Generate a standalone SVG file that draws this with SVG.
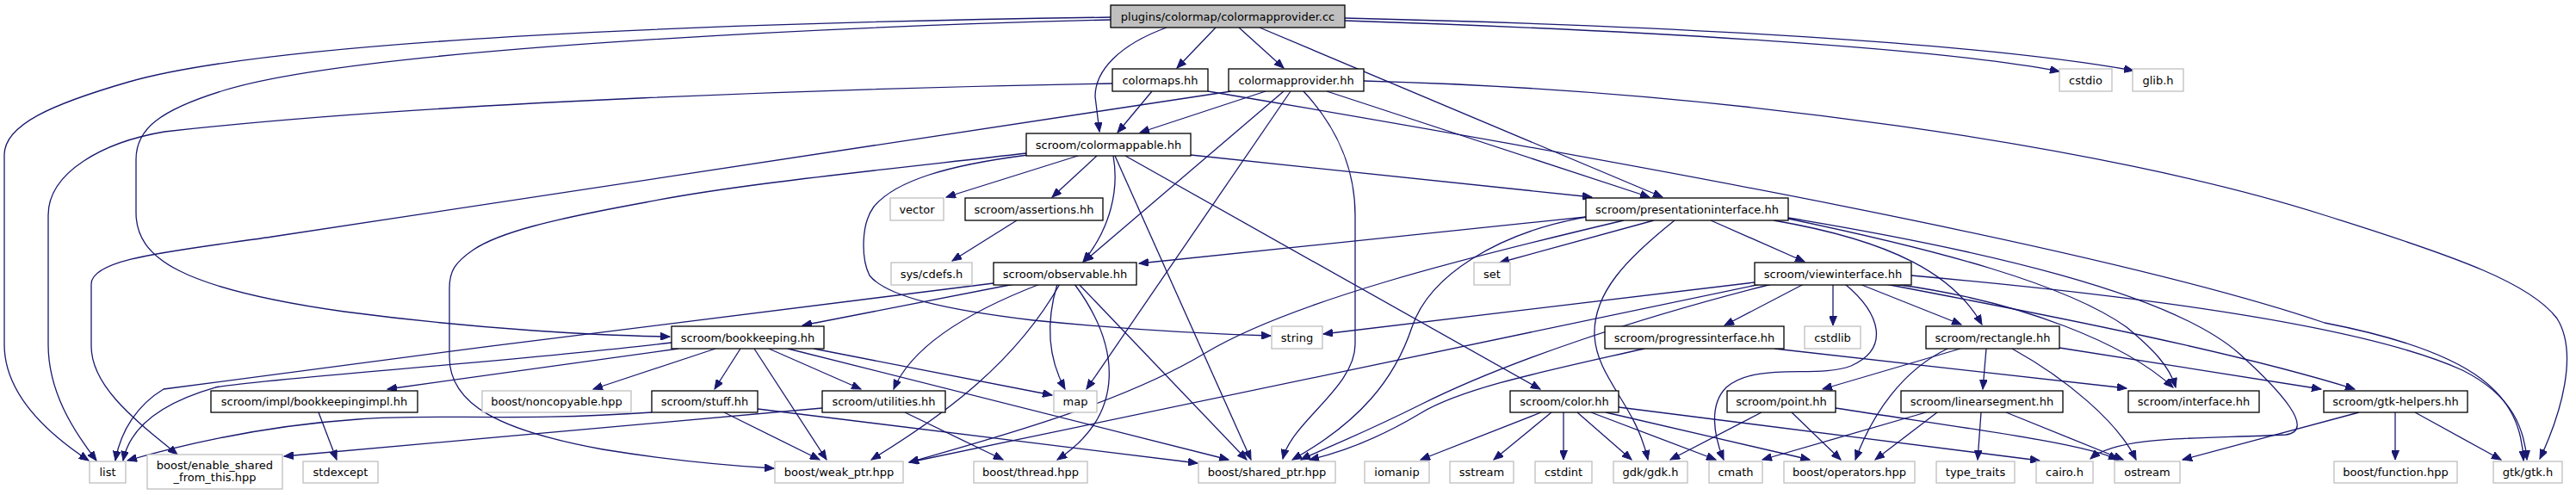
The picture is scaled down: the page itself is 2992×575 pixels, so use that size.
<svg xmlns="http://www.w3.org/2000/svg" width="2992" height="575" viewBox="0 0 2992 575">
<style>
.e{fill:none;stroke:#191970;stroke-width:1.3}
.n rect{fill:#fff;stroke:#000;stroke-width:1.3}
.x rect{fill:#fff;stroke:#bfbfbf;stroke-width:1.3}
.m rect{fill:#bfbfbf;stroke:#000;stroke-width:1.3}
text{font-family:"DejaVu Sans","Liberation Sans",sans-serif;font-size:13px;text-anchor:middle;fill:#000}
</style>
<defs>
<marker id="a" markerWidth="12" markerHeight="9" refX="11" refY="4.5" orient="auto" markerUnits="userSpaceOnUse"><path d="M0,0 L11,4.5 L0,9 z" fill="#191970" stroke="#191970" stroke-width="1"/></marker>
</defs>
<rect width="2992" height="575" fill="#fff"/>
<g id="edges">
<path class="e" marker-end="url(#a)" d="M1290,20 C1000,24 350,38 150,95 C60,121 5,145 5,180 L5,400 C5,455 50,500 103,535"/>
<path class="e" marker-end="url(#a)" d="M1290,23 C1000,30 420,55 260,105 C185,128 158,150 158,185 L158,247 C158,300 210,335 400,362 C560,383 700,390 778,391"/>
<path class="e" marker-end="url(#a)" d="M1355,32 C1300,52 1272,82 1272,112 L1277,153"/>
<path class="e" marker-end="url(#a)" d="M1412,32 L1367,79"/>
<path class="e" marker-end="url(#a)" d="M1439,32 L1491,79"/>
<path class="e" marker-end="url(#a)" d="M1463,32 L1931,229"/>
<path class="e" marker-end="url(#a)" d="M1562,24 C1900,35 2250,55 2392,83"/>
<path class="e" marker-end="url(#a)" d="M1562,21 C1950,30 2300,50 2478,82"/>
<path class="e" marker-end="url(#a)" d="M1292,97 C1000,102 500,118 191,153 C120,165 56,200 56,250 L56,400 C56,455 85,500 112,535"/>
<path class="e" marker-end="url(#a)" d="M1338,106 L1298,154"/>
<path class="e" marker-end="url(#a)" d="M1403,106 C1900,190 2450,290 2700,375 C2880,410 2928,460 2931,535"/>
<path class="e" marker-end="url(#a)" d="M1430,106 L316,275 C200,292 106,300 106,330 L106,402 C106,450 160,490 206,528"/>
<path class="e" marker-end="url(#a)" d="M1470,106 L1324,154"/>
<path class="e" marker-end="url(#a)" d="M1491,106 L1259,304"/>
<path class="e" marker-end="url(#a)" d="M1499,106 L1262,452"/>
<path class="e" marker-end="url(#a)" d="M1514,106 C1555,150 1574,200 1574,250 L1574,400 C1574,450 1500,490 1490,533"/>
<path class="e" marker-end="url(#a)" d="M1541,106 L1916,229"/>
<path class="e" marker-end="url(#a)" d="M1584,94 C2000,105 2450,170 2700,250 C2860,300 2940,330 2970,370 C2995,410 2975,480 2950,533"/>
<path class="e" marker-end="url(#a)" d="M1192,178 C1000,200 850,215 750,235 C640,255 580,270 550,290 C528,305 522,315 522,335 L522,415 C522,470 580,500 700,522 C780,535 850,541 899,544"/>
<path class="e" marker-end="url(#a)" d="M1252,181 L1099,229"/>
<path class="e" marker-end="url(#a)" d="M1274,181 L1222,229"/>
<path class="e" marker-end="url(#a)" d="M1293,181 C1300,220 1290,265 1258,304"/>
<path class="e" marker-end="url(#a)" d="M1194,180 C1100,192 1040,210 1015,240 C1000,260 1000,300 1010,320 C1030,345 1100,360 1200,372 C1300,382 1400,388 1476,390"/>
<path class="e" marker-end="url(#a)" d="M1295,181 L1453,534"/>
<path class="e" marker-end="url(#a)" d="M1307,181 L1789,452"/>
<path class="e" marker-end="url(#a)" d="M1383,180 L1849,229"/>
<path class="e" marker-end="url(#a)" d="M1181,256 L1106,303"/>
<path class="e" marker-end="url(#a)" d="M1842,252 L1323,306"/>
<path class="e" marker-end="url(#a)" d="M1843,252 C1740,270 1660,320 1640,380 C1620,440 1580,490 1501,534"/>
<path class="e" marker-end="url(#a)" d="M1886,256 C1700,300 1500,350 1400,410 C1300,470 1150,510 1056,537"/>
<path class="e" marker-end="url(#a)" d="M1921,256 L1742,305"/>
<path class="e" marker-end="url(#a)" d="M1945,256 C1890,300 1850,340 1852,390 C1855,440 1900,470 1914,534"/>
<path class="e" marker-end="url(#a)" d="M1987,256 L2096,304"/>
<path class="e" marker-end="url(#a)" d="M2060,256 C2200,280 2270,320 2302,377"/>
<path class="e" marker-end="url(#a)" d="M2077,254 C2250,290 2400,330 2470,380 C2500,405 2520,425 2527,450"/>
<path class="e" marker-end="url(#a)" d="M2077,253 C2300,290 2520,340 2600,410 C2650,455 2690,500 2655,505 C2560,510 2460,505 2428,533"/>
<path class="e" marker-end="url(#a)" d="M2038,328 L1537,388"/>
<path class="e" marker-end="url(#a)" d="M2045,330 L1056,537"/>
<path class="e" marker-end="url(#a)" d="M2058,330 C1900,370 1750,420 1650,470 C1580,505 1540,520 1511,534"/>
<path class="e" marker-end="url(#a)" d="M2095,330 L2003,378"/>
<path class="e" marker-end="url(#a)" d="M2129,330 L2129,378"/>
<path class="e" marker-end="url(#a)" d="M2143,330 C2185,365 2195,405 2150,425 C2110,440 2040,420 2005,450 C1985,470 1990,505 2002,534"/>
<path class="e" marker-end="url(#a)" d="M2160,330 L2278,377"/>
<path class="e" marker-end="url(#a)" d="M2190,330 C2400,370 2600,410 2735,452"/>
<path class="e" marker-end="url(#a)" d="M2200,330 C2350,350 2470,400 2524,450"/>
<path class="e" marker-end="url(#a)" d="M2220,320 C2500,345 2750,380 2860,430 C2920,460 2932,500 2935,534"/>
<path class="e" marker-end="url(#a)" d="M1910,405 C1800,430 1700,450 1650,480 C1600,510 1560,525 1521,534"/>
<path class="e" marker-end="url(#a)" d="M2061,405 L2470,451"/>
<path class="e" marker-end="url(#a)" d="M1790,479 L1650,534"/>
<path class="e" marker-end="url(#a)" d="M1802,479 L1735,534"/>
<path class="e" marker-end="url(#a)" d="M1816,479 L1816,534"/>
<path class="e" marker-end="url(#a)" d="M1832,479 L1895,534"/>
<path class="e" marker-end="url(#a)" d="M1848,479 L1993,534"/>
<path class="e" marker-end="url(#a)" d="M1865,479 L2102,534"/>
<path class="e" marker-end="url(#a)" d="M1880,473 L2369,535"/>
<path class="e" marker-end="url(#a)" d="M2046,479 L1940,534"/>
<path class="e" marker-end="url(#a)" d="M2081,479 L2138,534"/>
<path class="e" marker-end="url(#a)" d="M2132,474 C2300,500 2420,515 2460,534"/>
<path class="e" marker-end="url(#a)" d="M2277,405 L2117,452"/>
<path class="e" marker-end="url(#a)" d="M2262,405 C2210,430 2175,480 2155,534"/>
<path class="e" marker-end="url(#a)" d="M2307,405 L2303,452"/>
<path class="e" marker-end="url(#a)" d="M2337,405 C2400,440 2460,490 2481,534"/>
<path class="e" marker-end="url(#a)" d="M2392,404 L2696,452"/>
<path class="e" marker-end="url(#a)" d="M2237,479 L2047,534"/>
<path class="e" marker-end="url(#a)" d="M2250,479 L2178,534"/>
<path class="e" marker-end="url(#a)" d="M2301,479 L2297,534"/>
<path class="e" marker-end="url(#a)" d="M2330,479 L2466,534"/>
<path class="e" marker-end="url(#a)" d="M2740,479 L2535,534"/>
<path class="e" marker-end="url(#a)" d="M2782,479 L2782,534"/>
<path class="e" marker-end="url(#a)" d="M2805,479 L2905,534"/>
<path class="e" marker-end="url(#a)" d="M1154,329 C900,360 500,410 190,452 C160,470 140,500 134,535"/>
<path class="e" marker-end="url(#a)" d="M1178,330 L932,378"/>
<path class="e" marker-end="url(#a)" d="M1208,330 C1130,360 1060,400 1038,452"/>
<path class="e" marker-end="url(#a)" d="M1231,330 C1180,420 1100,480 1012,534"/>
<path class="e" marker-end="url(#a)" d="M1228,330 C1210,390 1225,430 1237,452"/>
<path class="e" marker-end="url(#a)" d="M1248,330 C1300,400 1310,480 1228,534"/>
<path class="e" marker-end="url(#a)" d="M1253,330 L1448,534"/>
<path class="e" marker-end="url(#a)" d="M780,398 C600,420 300,440 250,450 C180,470 150,500 143,535"/>
<path class="e" marker-end="url(#a)" d="M788,405 L450,452"/>
<path class="e" marker-end="url(#a)" d="M831,405 L689,452"/>
<path class="e" marker-end="url(#a)" d="M860,405 L830,452"/>
<path class="e" marker-end="url(#a)" d="M876,405 L960,534"/>
<path class="e" marker-end="url(#a)" d="M893,405 L1000,452"/>
<path class="e" marker-end="url(#a)" d="M945,405 L1222,459"/>
<path class="e" marker-end="url(#a)" d="M915,405 L1427,534"/>
<path class="e" marker-end="url(#a)" d="M757,479 C600,490 500,480 416,487 C300,495 200,520 148,535"/>
<path class="e" marker-end="url(#a)" d="M841,479 L952,534"/>
<path class="e" marker-end="url(#a)" d="M880,475 L1391,538"/>
<path class="e" marker-end="url(#a)" d="M955,474 L330,530"/>
<path class="e" marker-end="url(#a)" d="M1051,479 L1165,534"/>
<path class="e" marker-end="url(#a)" d="M370,479 L391,534"/>
</g>
<g id="main" class="m"><rect x="1290" y="6" width="272" height="26"/><text x="1426" y="23.5">plugins/colormap/colormapprovider.cc</text></g>
<g id="colormaps" class="n"><rect x="1292" y="80" width="111" height="26"/><text x="1347.5" y="97.5">colormaps.hh</text></g>
<g id="colormapprovider" class="n"><rect x="1427" y="80" width="157" height="26"/><text x="1505.5" y="97.5">colormapprovider.hh</text></g>
<g id="cstdio" class="x"><rect x="2392" y="80" width="61" height="26"/><text x="2422.5" y="97.5">cstdio</text></g>
<g id="glib" class="x"><rect x="2477" y="80" width="59" height="26"/><text x="2506.5" y="97.5">glib.h</text></g>
<g id="colormappable" class="n"><rect x="1192" y="155" width="191" height="26"/><text x="1287.5" y="172.5">scroom/colormappable.hh</text></g>
<g id="vector" class="x"><rect x="1034" y="230" width="62" height="26"/><text x="1065" y="247.5">vector</text></g>
<g id="assertions" class="n"><rect x="1121" y="230" width="160" height="26"/><text x="1201" y="247.5">scroom/assertions.hh</text></g>
<g id="presentationinterface" class="n"><rect x="1842" y="230" width="235" height="26"/><text x="1959.5" y="247.5">scroom/presentationinterface.hh</text></g>
<g id="syscdefs" class="x"><rect x="1035" y="305" width="94" height="26"/><text x="1082" y="322.5">sys/cdefs.h</text></g>
<g id="observable" class="n"><rect x="1154" y="305" width="166" height="26"/><text x="1237" y="322.5">scroom/observable.hh</text></g>
<g id="set" class="x"><rect x="1712" y="305" width="42" height="26"/><text x="1733" y="322.5">set</text></g>
<g id="viewinterface" class="n"><rect x="2038" y="305" width="182" height="26"/><text x="2129" y="322.5">scroom/viewinterface.hh</text></g>
<g id="bookkeeping" class="n"><rect x="780" y="379" width="177" height="26"/><text x="868.5" y="396.5">scroom/bookkeeping.hh</text></g>
<g id="string" class="x"><rect x="1477" y="379" width="59" height="26"/><text x="1506.5" y="396.5">string</text></g>
<g id="progressinterface" class="n"><rect x="1864" y="379" width="208" height="26"/><text x="1968" y="396.5">scroom/progressinterface.hh</text></g>
<g id="cstdlib" class="x"><rect x="2096" y="379" width="65" height="26"/><text x="2128.5" y="396.5">cstdlib</text></g>
<g id="rectangle" class="n"><rect x="2237" y="379" width="155" height="26"/><text x="2314.5" y="396.5">scroom/rectangle.hh</text></g>
<g id="bookkeepingimpl" class="n"><rect x="245" y="454" width="240" height="25"/><text x="365" y="471">scroom/impl/bookkeepingimpl.hh</text></g>
<g id="noncopyable" class="x"><rect x="560" y="454" width="173" height="25"/><text x="646.5" y="471">boost/noncopyable.hpp</text></g>
<g id="stuff" class="n"><rect x="757" y="454" width="123" height="25"/><text x="818.5" y="471">scroom/stuff.hh</text></g>
<g id="utilities" class="n"><rect x="955" y="454" width="143" height="25"/><text x="1026.5" y="471">scroom/utilities.hh</text></g>
<g id="map" class="x"><rect x="1224" y="454" width="50" height="25"/><text x="1249" y="471">map</text></g>
<g id="color" class="n"><rect x="1754" y="454" width="126" height="25"/><text x="1817" y="471">scroom/color.hh</text></g>
<g id="point" class="n"><rect x="2006" y="454" width="126" height="25"/><text x="2069" y="471">scroom/point.hh</text></g>
<g id="linearsegment" class="n"><rect x="2208" y="454" width="188" height="25"/><text x="2302" y="471">scroom/linearsegment.hh</text></g>
<g id="interface" class="n"><rect x="2472" y="454" width="152" height="25"/><text x="2548" y="471">scroom/interface.hh</text></g>
<g id="gtkhelpers" class="n"><rect x="2699" y="454" width="167" height="25"/><text x="2782.5" y="471">scroom/gtk-helpers.hh</text></g>
<g id="list" class="x"><rect x="104" y="536" width="42" height="25"/><text x="125" y="553">list</text></g>
<g id="enableshared" class="x"><rect x="171" y="528" width="157" height="40"/><text x="249.5" y="545">boost/enable_shared</text><text x="249.5" y="559">_from_this.hpp</text></g>
<g id="stdexcept" class="x"><rect x="352" y="536" width="87" height="25"/><text x="395.5" y="553">stdexcept</text></g>
<g id="weakptr" class="x"><rect x="900" y="536" width="149" height="25"/><text x="974.5" y="553">boost/weak_ptr.hpp</text></g>
<g id="thread" class="x"><rect x="1131" y="536" width="132" height="25"/><text x="1197" y="553">boost/thread.hpp</text></g>
<g id="sharedptr" class="x"><rect x="1392" y="536" width="159" height="25"/><text x="1471.5" y="553">boost/shared_ptr.hpp</text></g>
<g id="iomanip" class="x"><rect x="1585" y="536" width="75" height="25"/><text x="1622.5" y="553">iomanip</text></g>
<g id="sstream" class="x"><rect x="1684" y="536" width="74" height="25"/><text x="1721" y="553">sstream</text></g>
<g id="cstdint" class="x"><rect x="1783" y="536" width="66" height="25"/><text x="1816" y="553">cstdint</text></g>
<g id="gdk" class="x"><rect x="1874" y="536" width="86" height="25"/><text x="1917" y="553">gdk/gdk.h</text></g>
<g id="cmath" class="x"><rect x="1985" y="536" width="62" height="25"/><text x="2016" y="553">cmath</text></g>
<g id="operators" class="x"><rect x="2072" y="536" width="152" height="25"/><text x="2148" y="553">boost/operators.hpp</text></g>
<g id="typetraits" class="x"><rect x="2249" y="536" width="91" height="25"/><text x="2294.5" y="553">type_traits</text></g>
<g id="cairo" class="x"><rect x="2365" y="536" width="66" height="25"/><text x="2398" y="553">cairo.h</text></g>
<g id="ostream" class="x"><rect x="2456" y="536" width="76" height="25"/><text x="2494" y="553">ostream</text></g>
<g id="function" class="x"><rect x="2711" y="536" width="143" height="25"/><text x="2782.5" y="553">boost/function.hpp</text></g>
<g id="gtk" class="x"><rect x="2896" y="536" width="80" height="25"/><text x="2936" y="553">gtk/gtk.h</text></g>
</svg>
